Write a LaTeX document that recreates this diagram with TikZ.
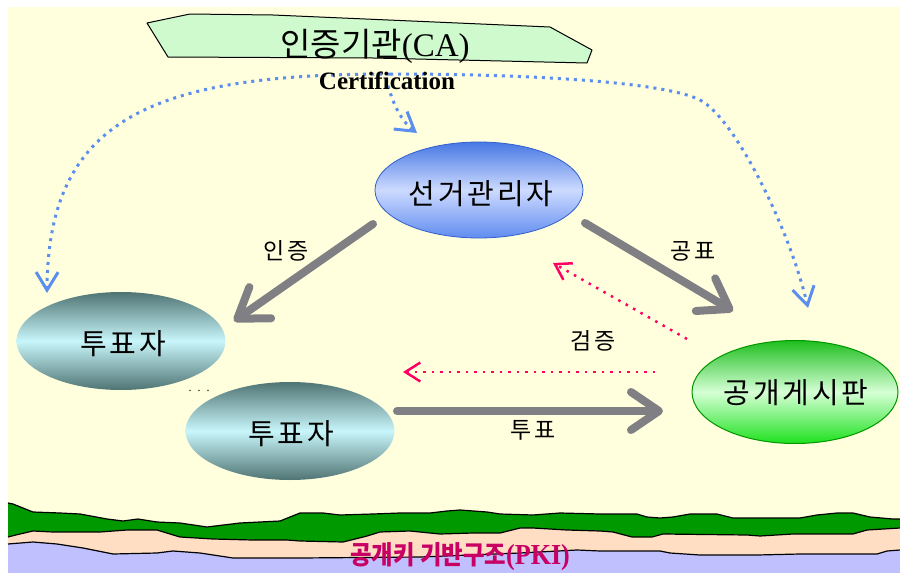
\documentclass[tikz,border=0pt]{standalone}
\usepackage{fontspec}
\setmainfont{Liberation Serif}
\newfontfamily\kr[LetterSpace=10]{Noto Sans CJK KR}
\newfontfamily\krtight{Noto Sans CJK KR}
\usetikzlibrary{shapes.geometric,arrows.meta}

\definecolor{paper}{RGB}{255,255,222}
\definecolor{caFill}{RGB}{206,250,206}
\definecolor{certBlue}{RGB}{92,142,240}
\definecolor{checkRed}{RGB}{255,0,100}
\definecolor{flowGray}{RGB}{128,128,132}
\definecolor{elecTop}{RGB}{70,120,228}
\definecolor{elecMid}{RGB}{205,218,255}
\definecolor{elecBot}{RGB}{96,140,240}
\definecolor{elecRim}{RGB}{50,95,205}
\definecolor{voterDark}{RGB}{80,116,116}
\definecolor{voterLight}{RGB}{200,246,250}
\definecolor{boardTop}{RGB}{30,190,30}
\definecolor{boardMid}{RGB}{214,255,214}
\definecolor{boardBot}{RGB}{30,225,30}
\definecolor{boardRim}{RGB}{0,150,0}
\definecolor{hill}{RGB}{0,153,0}
\definecolor{sand}{RGB}{255,222,196}
\definecolor{sea}{RGB}{192,192,255}
\definecolor{pkiRed}{RGB}{200,0,100}

% ground layers of the public key infrastructure band
\def\hilltop{(8,503) -- (13,504) -- (33,512) -- (60,513) -- (80,514) -- (107,519) -- (123,521) -- (138,519) -- (157,522) -- (180,523) -- (207,527) -- (240,523) -- (280,521) -- (290,517) -- (300,513) -- (323,513) -- (340,515) -- (373,514) -- (400,513) -- (430,513) -- (447,511) -- (460,510) -- (487,512) -- (500,514) -- (533,515) -- (560,513) -- (600,514) -- (637,514) -- (647,517) -- (660,518) -- (673,517) -- (690,514) -- (717,514) -- (733,518) -- (800,518) -- (817,515) -- (837,513) -- (853,513) -- (870,517) -- (893,519) -- (900,519)}
\def\sandtop{(8,537) -- (20,534) -- (33,531) -- (53,532) -- (100,532) -- (127,530) -- (157,530) -- (170,534) -- (180,537) -- (213,539) -- (253,540) -- (287,540) -- (300,541) -- (343,542) -- (367,536) -- (380,532) -- (410,531) -- (440,534) -- (473,533) -- (500,533) -- (520,528) -- (533,528) -- (567,530) -- (600,531) -- (613,532) -- (632,537) -- (652,537) -- (663,534) -- (747,535) -- (760,536) -- (793,534) -- (853,534) -- (867,530) -- (900,528)}
\def\seatop{(8,544) -- (33,542) -- (57,544) -- (83,548) -- (113,554) -- (157,553) -- (173,551) -- (200,553) -- (233,558) -- (300,558) -- (420,557) -- (520,553) -- (577,550) -- (600,551) -- (660,551) -- (670,553) -- (700,555) -- (757,555) -- (800,554) -- (877,554) -- (887,551) -- (900,550)}

\begin{document}
\begin{tikzpicture}[x=1pt,y=-1pt,
  every node/.style={inner sep=0pt},
  ridge/.style={draw=black, line width=1.2pt, line join=round},
  bigname/.style={font=\kr\fontsize{29}{29}\selectfont},
  flowlabel/.style={font=\kr\fontsize{23}{23}\selectfont},
  oval/.style={ellipse, inner sep=0pt},
  elecstyle/.style={oval, minimum width=208pt, minimum height=96pt,
    top color=elecTop, bottom color=elecBot, middle color=elecMid,
    draw=elecRim, line width=0.8pt},
  voterstyle/.style={oval, minimum width=209pt, minimum height=98pt,
    top color=voterDark, bottom color=voterDark, middle color=voterLight},
  boardstyle/.style={oval, minimum width=206pt, minimum height=103pt,
    top color=boardTop, bottom color=boardBot, middle color=boardMid,
    draw=boardRim, line width=1pt},
  flowarrow/.style={draw=flowGray, line width=8pt, line cap=round,
    -{Straight Barb[length=28pt,width=38pt,round]}},
  certline/.style={draw=certBlue, line width=3pt, dash pattern=on 3pt off 5pt,
    -{Straight Barb[length=18pt,width=22pt]}},
  checkline/.style={draw=checkRed, line width=2.5pt, dash pattern=on 2.5pt off 6pt,
    -{Straight Barb[length=15pt,width=19pt]}}]

\useasboundingbox (0,0) rectangle (900,573);
\fill[white] (0,0) rectangle (900,573);
\fill[paper] (8,7) rectangle (900,573);

% ground band
\fill[hill] \hilltop -- (900,573) -- (8,573) -- cycle;
\fill[sand] \sandtop -- (900,573) -- (8,573) -- cycle;
\fill[sea] \seatop -- (900,573) -- (8,573) -- cycle;
\draw[ridge] \hilltop;
\draw[ridge] \sandtop;
\draw[ridge] \seatop;
\node[font=\krtight\bfseries\fontsize{26}{26}\selectfont, text=pkiRed] (pki) at (460,557)
  {\scalebox{0.9}[1]{공개키 기반구조{\rmfamily\fontsize{29}{29}\selectfont(PKI)}}};

% certification authority banner
\filldraw[fill=caFill, draw=black, line width=1pt, line join=round]
  (147,23) -- (190,14) -- (273,15) -- (550,27) -- (592,50) -- (587,63) -- (373,58) -- (168,57) -- cycle;
\node[font=\krtight\fontsize{33}{33}\selectfont] (ca) at (375,46) {인증기관{\rmfamily(CA)}};

% certification links
\coordinate (hub) at (390,74);
\coordinate (arcMid) at (700,100);
\coordinate (voterCert) at (47,293);
\coordinate (boardCert) at (808,308);
\coordinate (elecCert) at (417,133);
\draw[certline] (hub) .. controls (150,74) and (48,120) .. (voterCert);
\draw[certline] (hub) .. controls (530,74) and (665,82) .. (arcMid)
  .. controls (735,118) and (790,230) .. (boardCert);
\draw[certline] (386,78) .. controls (392,102) and (400,120) .. (elecCert);
\node[font=\bfseries\fontsize{25}{25}\selectfont, anchor=base] (certlbl) at (387,89) {Certification};

% participants
\node[elecstyle] (elec) at (479,190) {};
\node[bigname] (electxt) at (481,194) {선거관리자};
\node[voterstyle] (voterA) at (121,341) {};
\node[bigname] (voterAtxt) at (123,344) {투표자};
\node[voterstyle] (voterB) at (290,431) {};
\node[bigname] (voterBtxt) at (291,434) {투표자};
\node[boardstyle] (board) at (795,392) {};
\node[bigname] (boardtxt) at (796,393) {공개게시판};
\node[font=\fontsize{12}{12}\selectfont] (more) at (199,391) {.\kern6pt.\kern6pt.};

% flows between participants
\coordinate (elecOutA) at (373,224);
\coordinate (voterAIn) at (234,321);
\coordinate (elecOutB) at (585,223);
\coordinate (boardInA) at (733,311);
\coordinate (voterBOut) at (397,411);
\coordinate (boardInB) at (663,411);
\draw[flowarrow] (elecOutA) -- (voterAIn);
\draw[flowarrow] (elecOutB) -- (boardInA);
\draw[flowarrow] (voterBOut) -- (boardInB);

% verification
\coordinate (boardOutA) at (687,339);
\coordinate (elecIn) at (553,263);
\coordinate (boardOutB) at (655,372);
\coordinate (voterIn) at (403,372);
\draw[checkline] (boardOutA) -- (elecIn);
\draw[checkline] (boardOutB) -- (voterIn);

% labels
\node[flowlabel] (lblAuth) at (286,251) {인증};
\node[flowlabel] (lblPub) at (693,251) {공표};
\node[flowlabel] (lblVerify) at (593,341) {검증};
\node[flowlabel] (lblVote) at (533,430) {투표};
\end{tikzpicture}
\end{document}
